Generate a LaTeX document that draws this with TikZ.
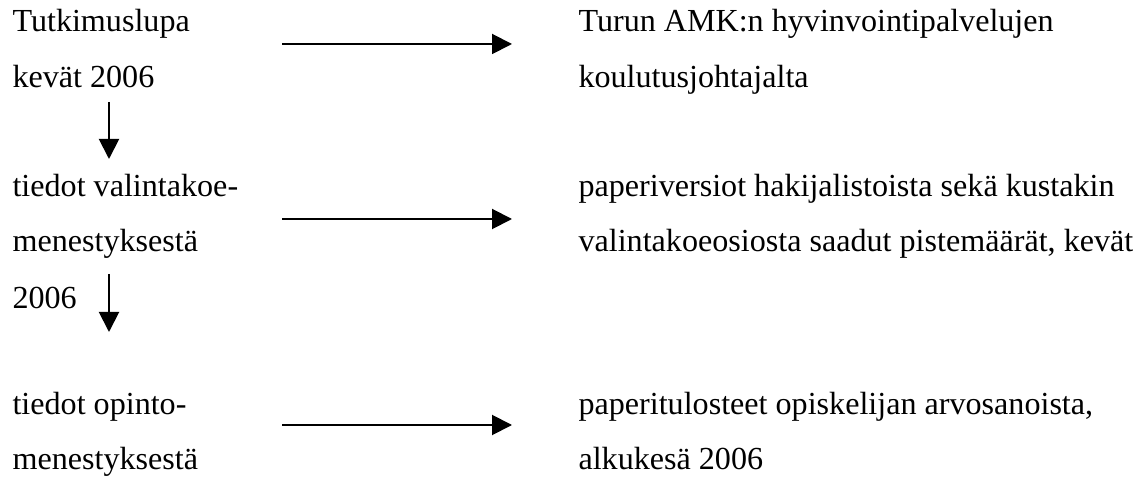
\documentclass[tikz,border=0pt]{standalone}
\usepackage{fontspec}
\setmainfont{Liberation Serif}
\usetikzlibrary{arrows.meta}
\begin{document}
\begin{tikzpicture}[x=0.383pt,y=-0.383pt,
  txt/.style={anchor=base west,inner sep=0pt,font=\fontsize{12.3}{14}\selectfont},
  arr/.style={line width=0.75pt,-{Triangle[length=7.66pt,width=7.66pt]}}]
\useasboundingbox (0,0) rectangle (1139,481);
% left column
\node[txt] (a1) at (12,32) {Tutkimuslupa};
\node[txt] (a2) at (12,88) {kevät 2006};
\node[txt] (b1) at (12,197) {tiedot valintakoe-};
\node[txt] (b2) at (12,252) {menestyksestä};
\node[txt] (b3) at (12,309) {2006};
\node[txt] (c1) at (12,415) {tiedot opinto-};
\node[txt] (c2) at (12,469) {menestyksestä};
% right column
\node[txt] (r1) at (578,32) {Turun AMK:n hyvinvointipalvelujen};
\node[txt] (r2) at (578,88) {koulutusjohtajalta};
\node[txt] (s1) at (578,197) {paperiversiot hakijalistoista sekä kustakin};
\node[txt] (s2) at (578,252) {valintakoeosiosta saadut pistemäärät, kevät};
\node[txt] (t1) at (578,415) {paperitulosteet opiskelijan arvosanoista,};
\node[txt] (t2) at (578,469) {alkukesä 2006};
% arrow end points
\coordinate (h1s) at (282,44);  \coordinate (h1e) at (512,44);
\coordinate (h2s) at (282,219); \coordinate (h2e) at (512,219);
\coordinate (h3s) at (282,425); \coordinate (h3e) at (512,425);
\coordinate (v1s) at (109,102); \coordinate (v1e) at (109,159);
\coordinate (v2s) at (109,274); \coordinate (v2e) at (109,332);
\draw[arr] (h1s) -- (h1e);
\draw[arr] (h2s) -- (h2e);
\draw[arr] (h3s) -- (h3e);
\draw[arr] (v1s) -- (v1e);
\draw[arr] (v2s) -- (v2e);
\end{tikzpicture}
\end{document}
